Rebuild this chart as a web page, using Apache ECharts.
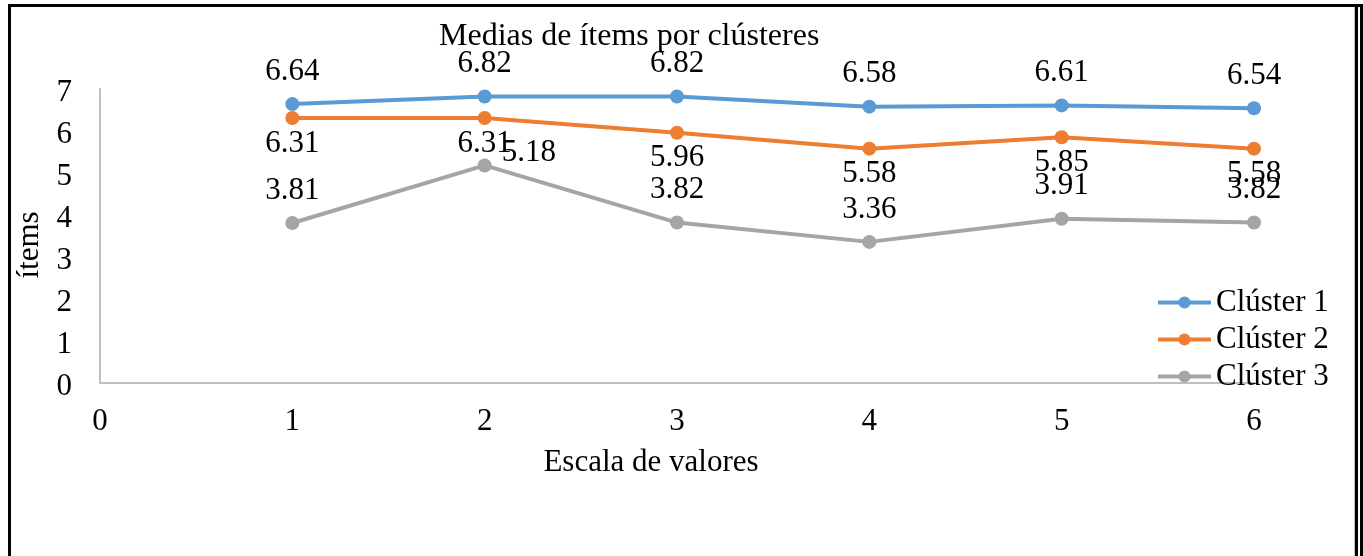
<!DOCTYPE html>
<html>
<head>
<meta charset="utf-8">
<script src="https://cdn.jsdelivr.net/npm/echarts@6/dist/echarts.min.js"></script>
<style>
html,body{margin:0;padding:0;background:#fff;}
#chart{width:1363px;height:556px;}
</style>
</head>
<body>
<div id="chart"></div>
<script>
var xValues = [1, 2, 3, 4, 5, 6];
var cluster1 = [6.64, 6.82, 6.82, 6.58, 6.61, 6.54];
var cluster2 = [6.31, 6.31, 5.96, 5.58, 5.85, 5.58];
var cluster3 = [3.81, 5.18, 3.82, 3.36, 3.91, 3.82];
var seriesNames = ['Clúster 1', 'Clúster 2', 'Clúster 3'];
var titleText = 'Medias de ítems por clústeres';
var xAxisName = 'Escala de valores';
var yAxisName = 'ítems';

var FONT = "'Liberation Serif', 'Times New Roman', serif";
var FS = 31;
var colors = ['#5B9BD5', '#ED7D31', '#A5A5A5'];

function pairs(vals) {
  return vals.map(function (v, i) { return [xValues[i], v]; });
}

var labelBase = { show: true, color: '#000', fontFamily: FONT, fontSize: FS };

var chart = echarts.init(document.getElementById('chart'), null, { renderer: 'canvas' });
chart.setOption({
  animation: false,
  color: colors,
  textStyle: { fontFamily: FONT },
  title: {
    text: titleText,
    left: 434,
    top: 16,
    textStyle: { fontFamily: FONT, fontSize: 32, fontWeight: 'normal', color: '#000' }
  },
  legend: {
    orient: 'vertical',
    left: 1151,
    top: 282,
    itemWidth: 53,
    itemHeight: 15,
    itemGap: 6,
    lineStyle: { width: 4 },
    textStyle: { fontFamily: FONT, fontSize: FS, color: '#000' },
    data: seriesNames
  },
  grid: { left: 100, right: 109, top: 89, bottom: 173, containLabel: false },
  xAxis: {
    type: 'value',
    min: 0, max: 6, interval: 1,
    name: xAxisName,
    nameLocation: 'middle',
    nameGap: 64,
    nameTextStyle: { fontFamily: FONT, fontSize: FS, color: '#000', padding: [0, 52, 0, 0] },
    axisLine: { show: true, lineStyle: { color: '#BFBFBF', width: 2 } },
    axisTick: { show: false },
    splitLine: { show: false },
    axisLabel: { fontFamily: FONT, fontSize: FS, color: '#000', margin: 23 }
  },
  yAxis: {
    type: 'value',
    min: 0, max: 7, interval: 1,
    name: yAxisName,
    nameLocation: 'middle',
    nameRotate: 90,
    nameGap: 43,
    nameTextStyle: { fontFamily: FONT, fontSize: FS, color: '#000', padding: [0, 18, 0, 0] },
    axisLine: { show: true, lineStyle: { color: '#BFBFBF', width: 2 } },
    axisTick: { show: false },
    splitLine: { show: false },
    axisLabel: {
      fontFamily: FONT, fontSize: FS, color: '#000', margin: 28,
      formatter: '{a|{value}}',
      rich: { a: { fontFamily: FONT, fontSize: FS, color: '#000', padding: [8, 0, 0, 0] } }
    }
  },
  series: [
    {
      name: seriesNames[0], type: 'line', data: pairs(cluster1),
      symbol: 'circle', symbolSize: 14,
      lineStyle: { width: 4 },
      label: Object.assign({}, labelBase, { position: 'top', distance: 10 })
    },
    {
      name: seriesNames[1], type: 'line', data: pairs(cluster2),
      symbol: 'circle', symbolSize: 14,
      lineStyle: { width: 4 },
      label: Object.assign({}, labelBase, { position: 'bottom', distance: 3 })
    },
    {
      name: seriesNames[2], type: 'line', data: pairs(cluster3).map(function (p, i) {
        if (i === 1) {
          return { value: p, label: { position: 'right', distance: 10, offset: [0, -13] } };
        }
        return p;
      }),
      symbol: 'circle', symbolSize: 14,
      lineStyle: { width: 4 },
      label: Object.assign({}, labelBase, { position: 'top', distance: 10 })
    }
  ],
  graphic: [
    { type: 'rect', shape: { x: 8, y: 4, width: 1355, height: 3 }, style: { fill: '#000' }, silent: true },
    { type: 'rect', shape: { x: 8, y: 4, width: 3, height: 552 }, style: { fill: '#000' }, silent: true },
    { type: 'rect', shape: { x: 1354, y: 7, width: 1, height: 549 }, style: { fill: '#BFBFBF' }, silent: true },
    { type: 'rect', shape: { x: 1355, y: 4, width: 3, height: 552 }, style: { fill: '#000' }, silent: true },
    { type: 'rect', shape: { x: 1360, y: 4, width: 3, height: 552 }, style: { fill: '#000' }, silent: true }
  ]
});
</script>
</body>
</html>
